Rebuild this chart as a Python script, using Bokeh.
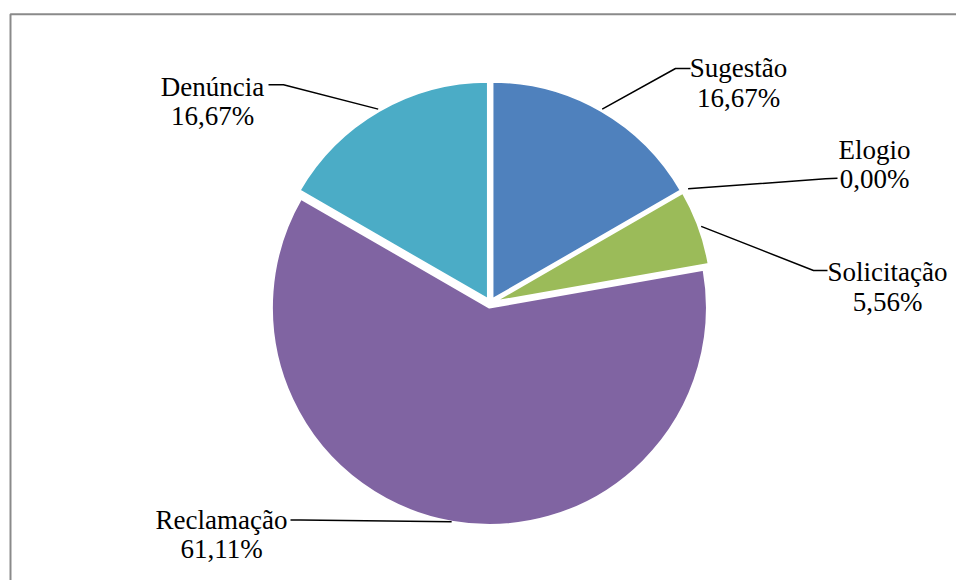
import math
from bokeh.plotting import figure
from bokeh.models import ColumnDataSource, Range1d
from bokeh.core.properties import value
from bokeh.embed import file_html
from bokeh.resources import INLINE

# ---- data ----
categories = ["Sugestão", "Elogio", "Solicitação", "Reclamação", "Denúncia"]
values = [16.67, 0.00, 5.56, 61.11, 16.67]
colors = ["#4F81BD", "#C0504D", "#9BBB59", "#8064A2", "#4BACC6"]

# ---- layout (page pixel coordinates) ----
W, H = 956, 580
center_page = (489.7, 302.6)
radius = 217.5
explode = 4.5
label_x = [738, 874, 887, 221, 212]
label_y1 = [67.7, 149.0, 271.7, 519.0, 86.0]
line_gap = 29.5
elbow_a = [(675, 68.0), (825, 178.3), (813, 270.0), (300, 519.5), (283, 84.3)]
elbow_b = [(690, 68.0), (837, 177.7), (827, 270.0), (290, 519.5), (268, 84.3)]
leader_r = [219.5, 224.0, 220.0, 217.5, 219.5]
FONT = "Liberation Serif"


def dx(px):
    return px


def dy(py):
    return H - py


p = figure(width=W, height=H, output_backend="svg", toolbar_location=None,
           x_range=Range1d(0, W), y_range=Range1d(0, H), min_border=0,
           outline_line_color=None, background_fill_color="white",
           border_fill_color="white")
p.axis.visible = False
p.grid.visible = False

cx, cy = dx(center_page[0]), dy(center_page[1])
total = sum(values)

wx, wy, ws, we, wc = [], [], [], [], []
lxs, lys = [], []
cum = 0.0
for i, v in enumerate(values):
    a0 = cum / total * 2 * math.pi
    a1 = (cum + v) / total * 2 * math.pi
    mid = (a0 + a1) / 2
    cum += v
    ox = cx + explode * math.sin(mid)
    oy = cy + explode * math.cos(mid)
    if v > 0:
        wx.append(ox)
        wy.append(oy)
        ws.append(math.pi / 2 - a0)
        we.append(math.pi / 2 - a1)
        wc.append(colors[i])
    sx = ox + leader_r[i] * math.sin(mid)
    sy = oy + leader_r[i] * math.cos(mid)
    lxs.append([sx, dx(elbow_a[i][0]), dx(elbow_b[i][0])])
    lys.append([sy, dy(elbow_a[i][1]), dy(elbow_b[i][1])])

src = ColumnDataSource(dict(x=wx, y=wy, s=ws, e=we, c=wc))
p.wedge(x="x", y="y", radius=radius, start_angle="s", end_angle="e",
        direction="clock", fill_color="c", line_color="white", line_width=2,
        source=src)

p.multi_line(xs=lxs, ys=lys, line_color="black", line_width=1.5)

pct = [f"{v:.2f}".replace(".", ",") + "%" for v in values]
tsrc = ColumnDataSource(dict(
    x=[dx(x) for x in label_x],
    y1=[dy(y) for y in label_y1],
    y2=[dy(y + line_gap) for y in label_y1],
    name=categories, pct=pct))
for col, ycol in (("name", "y1"), ("pct", "y2")):
    p.text(x="x", y=ycol, text=col, source=tsrc, text_align="center",
           text_baseline="alphabetic", text_font=value(FONT),
           text_font_size="27px", text_color="black")

# outer frame (partially visible like the reference)
p.line(x=[dx(10), dx(10), dx(1000)], y=[dy(700), dy(13.7), dy(13.7)],
       line_color="#8A8A8A", line_width=2)

open("out.html", "w").write(file_html(p, INLINE))
